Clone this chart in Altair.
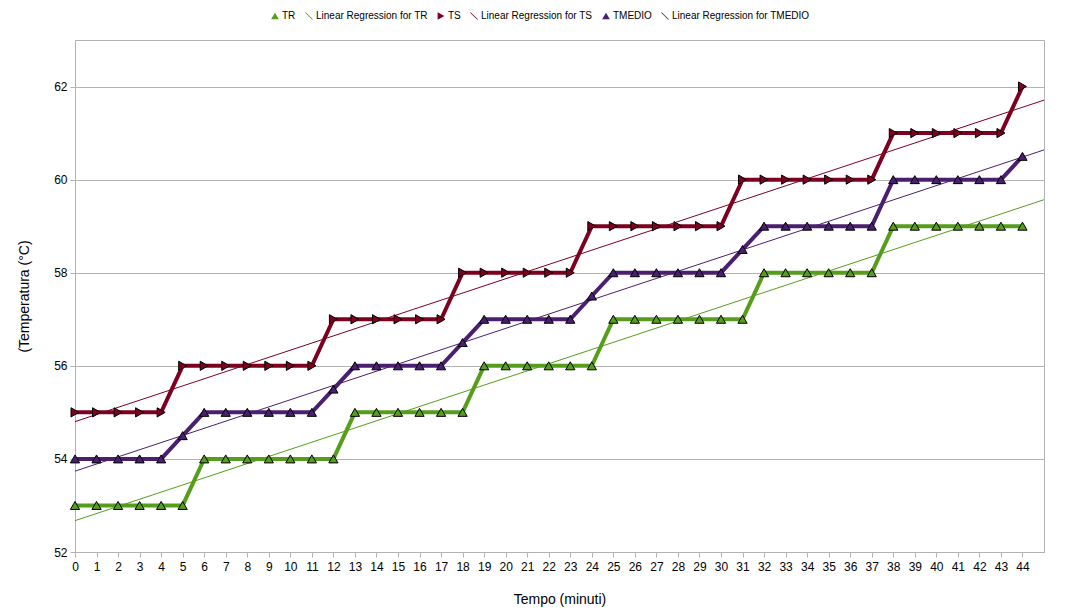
import altair as alt
import pandas as pd

minutes = list(range(45))
TR = [53, 53, 53, 53, 53, 53, 54, 54, 54, 54, 54, 54, 54, 55, 55, 55, 55, 55, 55,
      56, 56, 56, 56, 56, 56, 57, 57, 57, 57, 57, 57, 57, 58, 58, 58, 58, 58, 58,
      59, 59, 59, 59, 59, 59, 59]
TS = [55, 55, 55, 55, 55, 56, 56, 56, 56, 56, 56, 56, 57, 57, 57, 57, 57, 57,
      58, 58, 58, 58, 58, 58, 59, 59, 59, 59, 59, 59, 59, 60, 60, 60, 60, 60, 60, 60,
      61, 61, 61, 61, 61, 61, 62]
TMEDIO = [54, 54, 54, 54, 54, 54.5, 55, 55, 55, 55, 55, 55, 55.5, 56, 56, 56, 56, 56,
          56.5, 57, 57, 57, 57, 57, 57.5, 58, 58, 58, 58, 58, 58, 58.5, 59, 59, 59, 59,
          59, 59, 60, 60, 60, 60, 60, 60, 60.5]

series_names = ["TR", "TS", "TMEDIO"]
series_colors = ["#579d1c", "#7e0021", "#4b1f6f"]
legend_names = ["TR", "Linear Regression for TR", "TS", "Linear Regression for TS",
                "TMEDIO", "Linear Regression for TMEDIO"]
legend_colors = ["#579d1c", "#579d1c", "#7e0021", "#7e0021", "#4b1f6f", "#4b1f6f"]
line_icon = "M-1,-0.85L-0.85,-1L1,0.85L0.85,1Z"
legend_shapes = ["triangle-up", line_icon, "triangle-right", line_icon, "triangle-up", line_icon]

rows = []
for name, vals in zip(series_names, [TR, TS, TMEDIO]):
    for m, v in zip(minutes, vals):
        rows.append({"minute": m, "value": v, "series": name})
df = pd.DataFrame(rows)

FONT = "Liberation Sans"

x = alt.X("minute:Q", scale=alt.Scale(domain=[0, 45], nice=False, zero=False),
          axis=alt.Axis(values=minutes, title="Tempo (minuti)", labelAngle=0,
                        grid=False, tickColor="#b3b3b3", domainColor="#b3b3b3",
                        tickSize=5, labelPadding=4, labelFontSize=12, labelFont=FONT,
                        labelColor="black", titleFont=FONT, titleFontSize=14,
                        titleFontWeight="normal", titleColor="black", titlePadding=20,
                        labelFlush=False, labelOverlap=False))
y = alt.Y("value:Q", scale=alt.Scale(domain=[52, 63], nice=False, zero=False),
          axis=alt.Axis(values=[52, 54, 56, 58, 60, 62], title="(Temperatura (°C)",
                        grid=True, gridColor="#b3b3b3", tickColor="#b3b3b3",
                        domainColor="#b3b3b3", tickSize=5, labelPadding=3,
                        labelFontSize=12, labelFont=FONT, labelColor="black",
                        titleFont=FONT, titleFontSize=14, titleFontWeight="normal",
                        titleColor="black", titlePadding=22))

base = alt.Chart(df)

stroke_enc = alt.Stroke("series:N", scale=alt.Scale(domain=series_names, range=series_colors),
                        legend=None)

lines = base.mark_line(strokeWidth=4).encode(
    x=x, y=y, stroke=stroke_enc, order="minute:Q"
)

regress = base.transform_regression(
    "minute", "value", groupby=["series"], extent=[0, 45]
).mark_line(strokeWidth=1).encode(x=x, y=y, stroke=stroke_enc)

legend_kw = dict(title=None, orient="none", direction="horizontal",
                 legendX=195, legendY=-29, labelFont=FONT,
                 labelFontSize=10, labelColor="black",
                 symbolSize=60, symbolStrokeWidth=0,
                 symbolOpacity=1, columnPadding=8,
                 labelOffset=2, labelLimit=300)

points = base.mark_point(filled=True, size=85, stroke="black", strokeWidth=1, opacity=1).encode(
    x=x, y=y,
    fill=alt.Fill("series:N", scale=alt.Scale(domain=legend_names, range=legend_colors),
                  legend=alt.Legend(**legend_kw)),
    shape=alt.Shape("series:N", scale=alt.Scale(domain=legend_names, range=legend_shapes),
                    legend=alt.Legend(**legend_kw)),
)

chart = alt.layer(lines, regress, points).properties(
    width=969, height=512,
    autosize=alt.AutoSizeParams(type="none"),
    padding={"left": 67, "top": 32, "right": 23, "bottom": 55},
    background="white",
).configure_view(stroke="#b3b3b3", strokeWidth=1)

chart.save("out.html", embed_options={"renderer": "svg", "actions": False})
